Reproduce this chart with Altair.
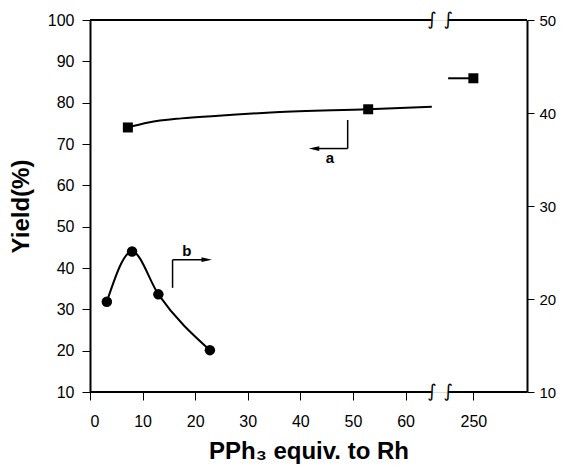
import altair as alt
import pandas as pd

# ---------------- data ----------------
# series a (left axis, squares)
a_x = [7.2, 52.9, 250]
a_y = [74.0, 78.4, 85.9]
# drawn fit curve of series a (traced), left part and part after the break
curve_a_x = [7.2, 11.1, 17.4, 23.8, 30.1, 35.2, 52.9, 65.0]
curve_a_y = [74.0, 75.2, 76.2, 76.8, 77.3, 77.7, 78.4, 79.0]
curve_a2_x = [245.2, 250]
curve_a2_y = [85.9, 85.9]
# series b (right axis, circles)
b_x = [3.2, 8.0, 13.0, 22.8]
b_y = [19.7, 25.1, 20.5, 14.5]

x_ticks = [0, 10, 20, 30, 40, 50, 60, 250]
left_ticks = [10, 20, 30, 40, 50, 60, 70, 80, 90, 100]
right_ticks = [10, 20, 30, 40, 50]

# broken x axis: left segment 0..65, right segment 245.2..260.2
SEG_LEFT = (0, 65.0)
SEG_RIGHT = (245.2, 260.2)
SHIFT = 177.1  # right segment drawn shifted left by this amount


def pos(v):
    return v if v <= SEG_LEFT[1] else v - SHIFT


X_MIN, X_MAX = pos(SEG_LEFT[0]), pos(SEG_RIGHT[1])
FONT = "Liberation Sans"
W, H = 437, 372

# ---------------- tables ----------------
df_a = pd.DataFrame({"x": [pos(v) for v in a_x], "y": a_y})
df_ca = pd.DataFrame({
    "x": [pos(v) for v in curve_a_x] + [pos(v) for v in curve_a2_x],
    "y": curve_a_y + curve_a2_y,
    "seg": ["L"] * len(curve_a_x) + ["R"] * len(curve_a2_x),
})
df_b = pd.DataFrame({"x": [pos(v) for v in b_x], "y": b_y})
df_frame = pd.DataFrame({
    "x": [pos(SEG_LEFT[0]), pos(SEG_RIGHT[0])] * 2,
    "x2": [pos(SEG_LEFT[1]), pos(SEG_RIGHT[1])] * 2,
    "y": [left_ticks[0]] * 2 + [left_ticks[-1]] * 2,
})
df_sq = pd.DataFrame({
    "x": [pos(SEG_LEFT[1]), pos(SEG_RIGHT[0])] * 2,
    "y": [left_ticks[0]] * 2 + [left_ticks[-1]] * 2,
    "t": ["\u222b"] * 4,
})
# annotation arrows (left-axis units)
df_arr_lines = pd.DataFrame({
    "x": [49.0, 49.0, 15.7, 15.7],
    "x2": [49.0, 43.0, 15.7, 22.0],
    "y": [75.8, 68.9, 35.2, 42.0],
    "y2": [68.9, 68.9, 42.0, 42.0],
})
df_arr_heads = pd.DataFrame({
    "x": [42.6, 22.2], "y": [68.9, 42.0], "dir": ["L", "R"],
})
df_arr_txt = pd.DataFrame({"x": [45.6, 18.4], "y": [66.6, 44.0], "t": ["a", "b"]})

# ---------------- encodings ----------------
xscale = alt.Scale(domain=[X_MIN, X_MAX], nice=False, zero=False)
xaxis = alt.Axis(
    values=[pos(v) for v in x_ticks],
    labelExpr=f"datum.value > {SEG_LEFT[1]} ? format(datum.value + {SHIFT}, 'd') : format(datum.value, 'd')",
    domain=False, grid=False, tickSize=8, tickWidth=1, tickColor="black",
    labelFont=FONT, labelFontSize=16, labelColor="black", labelPadding=13,
    title="PPh\u2083 equiv. to Rh", titleFont=FONT, titleFontSize=24, titleFontWeight="bold",
    titleColor="black", titleY=66, titleBaseline="alphabetic", titleX=W / 2,
)
X = alt.X("x:Q", scale=xscale, axis=xaxis)
X2 = alt.X2("x2")

lscale = alt.Scale(domain=[left_ticks[0], left_ticks[-1]], nice=False, zero=False)
laxis = alt.Axis(
    values=left_ticks, grid=False, domainWidth=2, domainColor="black",
    tickSize=8, tickWidth=1, tickColor="black", labelPadding=8,
    labelFont=FONT, labelFontSize=16, labelColor="black",
    title="Yield(%)", titleFont=FONT, titleFontSize=24, titleFontWeight="bold",
    titleColor="black", titleX=-57, titleY=H / 2,
)
YL = alt.Y("y:Q", scale=lscale, axis=laxis)

rscale = alt.Scale(domain=[right_ticks[0], right_ticks[-1]], nice=False, zero=False)
raxis = alt.Axis(
    orient="right", values=right_ticks, grid=False, domainWidth=2, domainColor="black",
    tickSize=7, tickWidth=1, tickColor="black", labelPadding=5,
    labelFont=FONT, labelFontSize=15, labelColor="black", title=None,
)
YR = alt.Y("y:Q", scale=rscale, axis=raxis)

# ---------------- left group ----------------
frame = alt.Chart(df_frame).mark_rule(color="black", strokeWidth=2).encode(x=X, x2=X2, y=YL)
squig = alt.Chart(df_sq).mark_text(font="DejaVu Sans", fontSize=18, color="black",
                                   baseline="middle", align="center").encode(x=X, y=YL, text="t:N")
curve_a = alt.Chart(df_ca).mark_line(color="black", strokeWidth=2, interpolate="monotone").encode(
    x=X, y=YL, detail="seg:N")
pts_a = alt.Chart(df_a).mark_point(shape="square", filled=True, color="black", size=100, opacity=1).encode(x=X, y=YL)
arr_l = alt.Chart(df_arr_lines).mark_rule(color="black", strokeWidth=1.5).encode(
    x=X, x2=X2, y=YL, y2=alt.Y2("y2"))
head_l = alt.Chart(df_arr_heads[df_arr_heads.dir == "L"]).mark_point(
    shape="M-1,0L1,-0.45L1,0.45Z", filled=True, color="black", size=110, opacity=1).encode(x=X, y=YL)
head_r = alt.Chart(df_arr_heads[df_arr_heads.dir == "R"]).mark_point(
    shape="M1,0L-1,-0.45L-1,0.45Z", filled=True, color="black", size=110, opacity=1).encode(x=X, y=YL)
arr_t = alt.Chart(df_arr_txt).mark_text(font=FONT, fontSize=15, fontWeight="bold", color="black",
                                        baseline="middle").encode(x=X, y=YL, text="t:N")

left = alt.layer(frame, curve_a, pts_a, arr_l, head_l, head_r, arr_t, squig)

# ---------------- right group ----------------
curve_b = alt.Chart(df_b).mark_line(color="black", strokeWidth=2, interpolate="monotone").encode(x=X, y=YR)
pts_b = alt.Chart(df_b).mark_circle(color="black", size=110, opacity=1).encode(x=X, y=YR)
right = alt.layer(curve_b, pts_b)

chart = (
    alt.layer(left, right)
    .resolve_scale(y="independent")
    .properties(width=W, height=H, autosize="none",
                padding={"left": 82, "top": 12, "right": 29, "bottom": 72})
    .configure_view(stroke=None)
    .configure(background="white")
)

chart.save("out.html", embed_options={"renderer": "svg", "actions": False})
